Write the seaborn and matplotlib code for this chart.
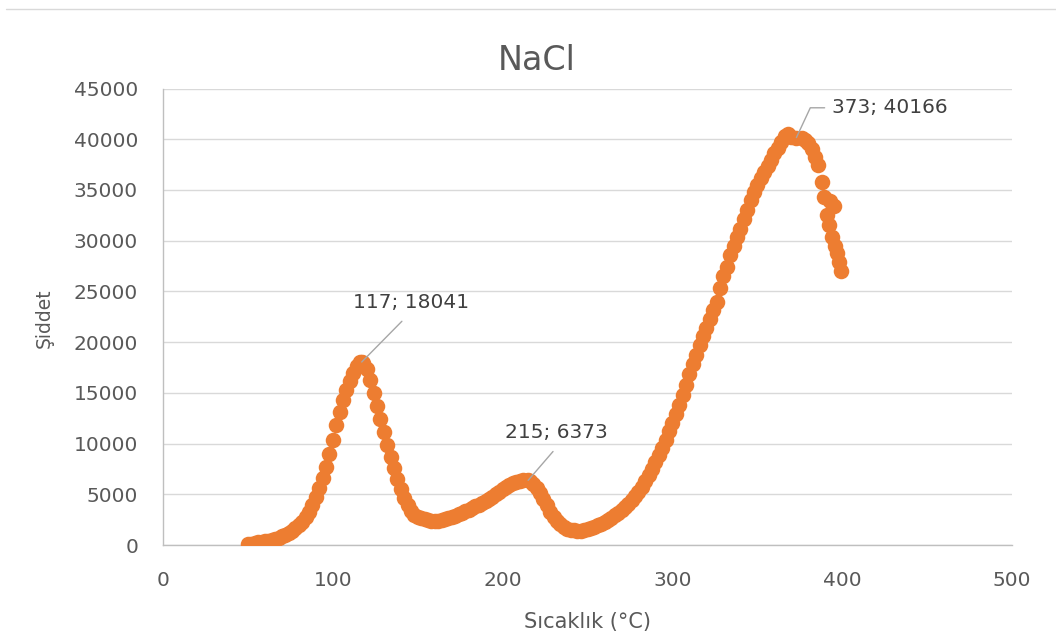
import matplotlib
matplotlib.use("Agg")
import matplotlib.pyplot as plt
from matplotlib.lines import Line2D
import seaborn as sns

# temperature (°C) and intensity readings
temps = [
    50, 52, 54, 56, 58, 60, 62, 64, 66, 68, 70, 72, 74, 76, 78, 80, 82, 84, 86, 88,
    90, 92, 94, 96, 98, 100, 102, 104, 106, 108, 110, 112, 114, 116, 117, 118, 120,
    122, 124, 126, 128, 130, 132, 134, 136, 138, 140, 142, 144, 146, 148, 150, 152,
    154, 156, 158, 160, 162, 164, 166, 168, 170, 172, 174, 176, 178, 180, 182, 184,
    186, 188, 190, 192, 194, 196, 198, 200, 202, 204, 206, 208, 210, 212, 215, 216,
    218, 220, 222, 224, 226, 228, 230, 232, 234, 236, 238, 240, 242, 244, 246, 248,
    250, 252, 254, 256, 258, 260, 262, 264, 266, 268, 270, 272, 274, 276, 278, 280,
    282, 284, 286, 288, 290, 292, 294, 296, 298, 300, 302, 304, 306, 308, 310, 312,
    314, 316, 318, 320, 322, 324, 326, 328, 330, 332, 334, 336, 338, 340, 342, 344,
    346, 348, 350, 352, 354, 356, 358, 360, 362, 364, 366, 368, 370, 373, 376, 378,
    380, 382, 384, 386, 388, 389, 393, 395, 391, 392, 394, 396, 397, 398, 399,
]
intensity = [
    100, 150, 200, 250, 300, 350, 420, 500, 600, 720, 850, 1000, 1180, 1400, 1650,
    1950, 2300, 2750, 3300, 3900, 4700, 5600, 6600, 7700, 9000, 10400, 11800, 13100,
    14300, 15300, 16200, 17000, 17600, 18000, 18041, 17900, 17400, 16300, 15000,
    13700, 12400, 11100, 9900, 8700, 7600, 6500, 5500, 4600, 3900, 3400, 3000, 2800,
    2650, 2550, 2450, 2400, 2380, 2400, 2450, 2550, 2650, 2780, 2900, 3050, 3200,
    3350, 3500, 3650, 3800, 3950, 4100, 4300, 4500, 4750, 5000, 5250, 5500, 5750,
    5950, 6100, 6250, 6330, 6370, 6373, 6300, 6000, 5600, 5100, 4500, 3900, 3300,
    2800, 2400, 2050, 1800, 1600, 1500, 1450, 1400, 1400, 1450, 1550, 1650, 1800,
    1950, 2100, 2300, 2500, 2700, 2950, 3200, 3450, 3750, 4050, 4400, 4800, 5250,
    5750, 6300, 6900, 7500, 8150, 8850, 9600, 10400, 11200, 12000, 12900, 13800,
    14800, 15800, 16900, 17800, 18700, 19700, 20600, 21400, 22300, 23200, 24000,
    25300, 26500, 27400, 28600, 29500, 30400, 31200, 32100, 33000, 34000, 34800,
    35500, 36200, 36800, 37400, 38000, 38600, 39100, 39700, 40300, 40500, 40200,
    40166, 40100, 39900, 39600, 39000, 38200, 37500, 35800, 34300, 33900, 33400,
    32500, 31500, 30400, 29500, 28800, 27900, 27000,
]

# labelled peaks: (temperature, intensity)
peak_labels = [(117, 18041), (215, 6373), (373, 40166)]

x_ticks = [0, 100, 200, 300, 400, 500]
y_ticks = [0, 5000, 10000, 15000, 20000, 25000, 30000, 35000, 40000, 45000]

sns.set_theme(style="white")
plt.rcParams["font.family"] = ["DejaVu Sans"]

text_grey = "#595959"
fig = plt.figure(figsize=(10.56, 6.4), dpi=100)
ax = fig.add_axes([0.1544, 0.1484, 0.8040, 0.7133])

sns.scatterplot(
    x=temps, y=intensity, ax=ax,
    color="#ED7D31", s=125, linewidth=0, alpha=1, zorder=3,
)

ax.set_xlim(0, 500)
ax.set_ylim(0, 45000)
ax.set_xticks(x_ticks)
ax.set_yticks(y_ticks)
ax.set_xticklabels([str(t) for t in x_ticks])
ax.set_yticklabels([str(t) for t in y_ticks])
ax.tick_params(axis="both", length=0, labelsize=14.5, labelcolor=text_grey)
ax.tick_params(axis="y", pad=18)
ax.tick_params(axis="x", pad=19)

ax.yaxis.grid(True, color="#D9D9D9", linewidth=1)
ax.xaxis.grid(False)
for side in ["top", "right"]:
    ax.spines[side].set_visible(False)
for side in ["left", "bottom"]:
    ax.spines[side].set_color("#BFBFBF")
    ax.spines[side].set_linewidth(1)

ax.set_xlabel("Sıcaklık (°C)", fontsize=15, color=text_grey, va="center")
ax.xaxis.set_label_coords(0.5, -0.169)
ax.set_ylabel("Şiddet", fontsize=13.5, color=text_grey, va="center")
ax.yaxis.set_label_coords(-0.140, 0.497)

fig.text(537 / 1056, 1 - 60 / 640, "NaCl", ha="center", va="center",
         fontsize=24, color=text_grey)

# data labels with leader lines
label_grey = "#404040"
label_pos = [(146, 23900, "center", (0.5, 0)),
             (231.5, 11100, "center", (0.55, 0)),
             (394, 43100, "left", (0, 0.5))]
for (t, v), (tx, ty, ha, rel) in zip(peak_labels, label_pos):
    props = dict(arrowstyle="-", color="#A6A6A6", lw=1, shrinkA=6, shrinkB=0,
                 relpos=rel)
    if ha == "left":
        props.update(shrinkA=3, connectionstyle="angle,angleA=0,angleB=65,rad=0")
    ax.annotate(f"{t}; {v}", xy=(t, v), xytext=(tx, ty), ha=ha, va="center",
                fontsize=14.5, color=label_grey, arrowprops=props)

# chart-area frame edge visible at the top of the picture
fig.add_artist(Line2D([6 / 1056, 1], [1 - 9 / 640] * 2, color="#D9D9D9", lw=1))

fig.savefig("out.png", dpi=100)
